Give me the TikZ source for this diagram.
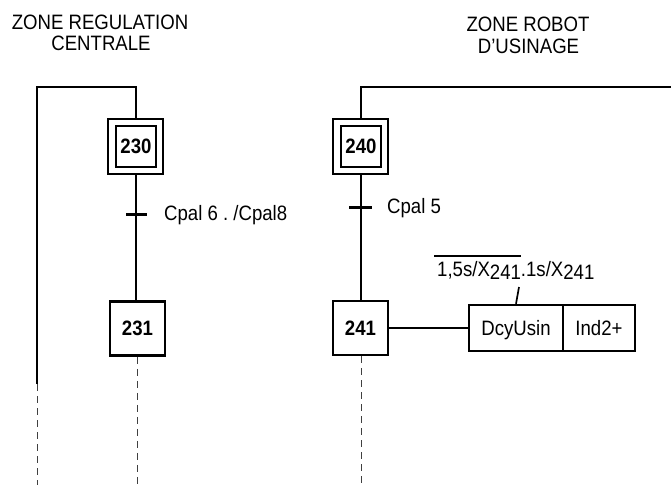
\documentclass[tikz,border=0pt]{standalone}
\usepackage{fontspec}
\setmainfont{Liberation Sans}
\newcommand\tallt[1]{\scalebox{1}[1.12]{#1}}
\newcommand\ovl[1]{\setbox0\hbox{#1}\rlap{\hspace{-3pt}\raisebox{17.9pt}{\rule{\dimexpr\wd0+3pt\relax}{1.9pt}}}\box0}
\newcommand\lowd[1]{\raisebox{-2.2pt}{#1}}
\begin{document}
\frenchspacing
\begin{tikzpicture}[x=1pt,y=-1pt,
  every node/.style={font=\fontsize{18.6}{22}\selectfont},
  stepbox/.style={draw,line width=2.8pt,minimum width=55pt,minimum height=54pt,inner sep=0pt,text depth=0pt,font=\fontsize{18.6}{22}\selectfont\bfseries},
  initbox/.style={draw,line width=2.3pt,minimum width=55pt,minimum height=55pt,inner sep=0pt},
  innerbox/.style={draw,line width=2.6pt,minimum width=40pt,minimum height=41pt,inner sep=0pt,text depth=0pt,font=\fontsize{18.6}{22}\selectfont\bfseries},
  actbox/.style={draw,line width=2.5pt,minimum height=46pt,inner sep=0pt,text depth=0pt},
  link/.style={line width=1.7pt},
  tickline/.style={line width=3pt},
  dashline/.style={line width=1pt,dash pattern=on 7pt off 5pt,black!75},
  lbl/.style={anchor=base west,inner sep=0pt},
  ttl/.style={anchor=base,inner sep=0pt}
]
\useasboundingbox (0,0) rectangle (671,485);

% titles
\node[ttl] (t1a) at (100,29) {\tallt{ZONE REGULATION}};
\node[ttl] (t1b) at (101,50) {\tallt{CENTRALE}};
\node[ttl] (t2a) at (528,31) {\tallt{ZONE ROBOT}};
\node[ttl] (t2b) at (528.5,53) {\tallt{D'USINAGE}};

% steps
\node[initbox] (o230) at (135.5,146.5) {};
\node[innerbox] (s230) at (136,146.5) {\tallt{230}};
\node[initbox] (o240) at (360.5,146.5) {};
\node[innerbox] (s240) at (361,146.5) {\tallt{240}};
\node[stepbox] (s231) at (137.5,328.5) {\tallt{231}};
\node[stepbox] (s241) at (360.5,328) {\tallt{241}};

% action boxes
\node[actbox,minimum width=94pt] (a1) at (516,328) {\tallt{DcyUsin}};
\node[actbox,minimum width=72pt] (a2) at (599,328) {\tallt{Ind2+}};

% coordinates
\coordinate (l0) at (37,384);
\coordinate (l1) at (37,87);
\coordinate (l2) at (136,87);
\coordinate (r0) at (671,87);
\coordinate (r1) at (361,87);
\coordinate (d1) at (37,485);
\coordinate (d2) at (137.5,485);
\coordinate (d3) at (361,485);

% left sequence
\draw[link] (l0) -- (l1) -- (l2) -- (o230.north -| l2);
\draw[link] (o230.south -| l2) -- (s231.north -| l2);
\draw[tickline] (126,214) -- (147,214);
\node[lbl] (c1) at (164,220.5) {\tallt{Cpal 6 . /Cpal8}};
\draw[dashline] (l0) -- (d1);
\draw[dashline] (s231.south -| d2) -- (d2);

% right sequence
\draw[link] (r0) -- (r1) -- (o240.north -| r1);
\draw[link] (o240.south -| r1) -- (s241.north -| r1);
\draw[tickline] (349,207) -- (372,207);
\node[lbl] (c2) at (387,213.5) {\tallt{Cpal 5}};
\draw[dashline] (s241.south -| d3) -- (d3);

% action link
\draw[link] (s241.east) -- (a1.west);
\coordinate (q) at (519,287);
\draw[link] (a1.north) -- (q);
\node[lbl] (cond) at (437,276.7) {\tallt{\ovl{1,5s/X\lowd{241}}.1s/X\lowd{241}}};
\end{tikzpicture}
\end{document}
